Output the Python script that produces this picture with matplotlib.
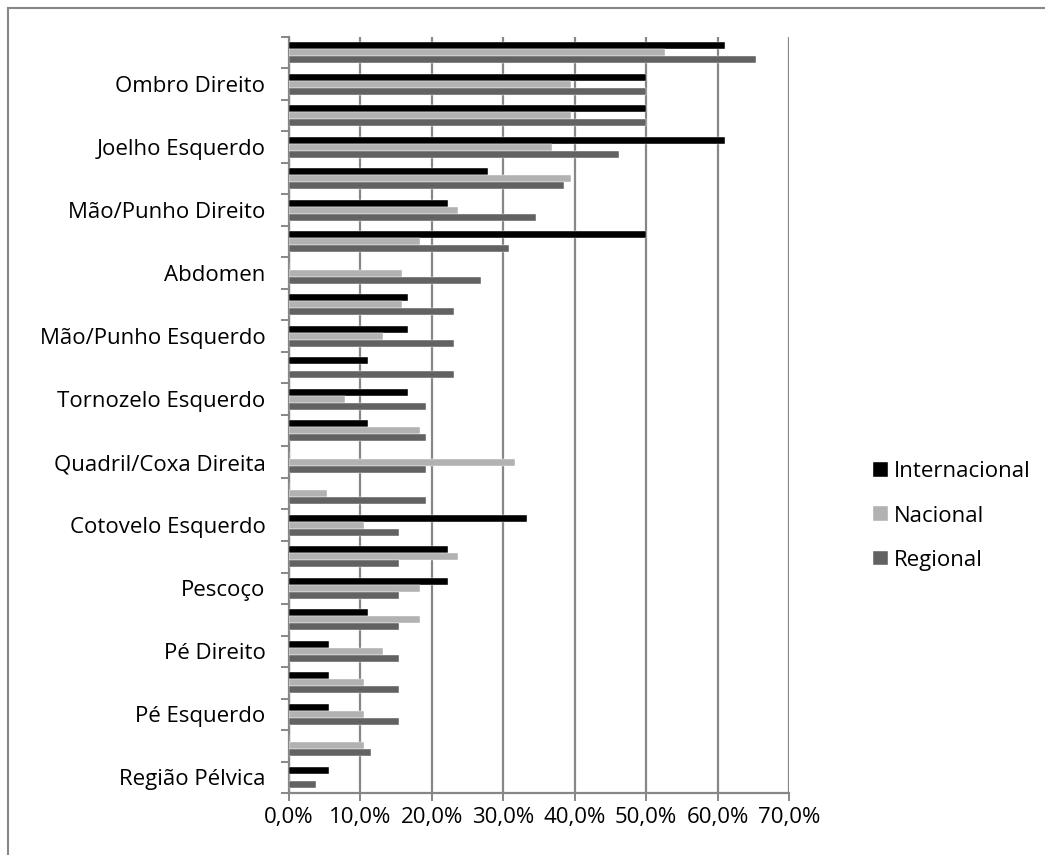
import matplotlib.pyplot as plt
import numpy as np
from matplotlib.lines import Line2D
from matplotlib.ticker import FixedLocator, FuncFormatter

plt.rcParams['font.family'] = ['Open Sans', 'DejaVu Sans']

# Body regions, top to bottom (only every other name is printed on the axis)
regioes = ['', 'Ombro Direito', '', 'Joelho Esquerdo', '', 'Mão/Punho Direito',
           '', 'Abdomen', '', 'Mão/Punho Esquerdo', '', 'Tornozelo Esquerdo',
           '', 'Quadril/Coxa Direita', '', 'Cotovelo Esquerdo', '', 'Pescoço',
           '', 'Pé Direito', '', 'Pé Esquerdo', '', 'Região Pélvica']

# Share of athletes reporting injury (%)
internacional = [61.1, 50.0, 50.0, 61.1, 27.8, 22.2, 50.0, 0.0, 16.7, 16.7, 11.1, 16.7,
                 11.1, 0.0, 0.0, 33.3, 22.2, 22.2, 11.1, 5.6, 5.6, 5.6, 0.0, 5.6]
nacional = [52.6, 39.5, 39.5, 36.8, 39.5, 23.7, 18.4, 15.8, 15.8, 13.2, 0.0, 7.9,
            18.4, 31.6, 5.3, 10.5, 23.7, 18.4, 18.4, 13.2, 10.5, 10.5, 10.5, 0.0]
regional = [65.4, 50.0, 50.0, 46.2, 38.5, 34.6, 30.8, 26.9, 23.1, 23.1, 23.1, 19.2,
            19.2, 19.2, 19.2, 15.4, 15.4, 15.4, 15.4, 15.4, 15.4, 15.4, 11.5, 3.8]

series = [('Internacional', internacional, '#000000'),
          ('Nacional', nacional, '#b2b2b2'),
          ('Regional', regional, '#626262')]

grid_color = '#878787'

fig = plt.figure(figsize=(10.45, 8.55), dpi=100)
ax = fig.add_axes([289 / 1045, 1 - 793 / 855, 500 / 1045, 756 / 855])

y = np.arange(len(regioes))
h = 1 / 4.4
for k, (nome, vals, cor) in enumerate(series):
    ax.barh(y + (k - 1) * h, vals, height=h, color=cor, label=nome,
            edgecolor='white', linewidth=0.3, zorder=3)

ax.set_xlim(0, 70)
ax.set_ylim(len(regioes) - 0.5, -0.5)

ax.xaxis.set_major_locator(FixedLocator(np.arange(0, 71, 10)))
ax.xaxis.set_major_formatter(FuncFormatter(lambda v, p: f'{v:.1f}%'.replace('.', ',')))
ax.grid(axis='x', color=grid_color, linewidth=1.6, zorder=0)

ax.set_yticks(y)
ax.set_yticklabels(regioes)
ax.yaxis.set_minor_locator(FixedLocator(np.arange(-0.5, len(regioes), 1)))

ax.tick_params(axis='y', which='major', length=0, pad=17, labelsize=16)
ax.tick_params(axis='y', which='minor', length=6, width=1.4, color=grid_color)
ax.tick_params(axis='x', length=6, width=1.4, color=grid_color, pad=4, labelsize=16)

for side in ['top', 'right']:
    ax.spines[side].set_visible(False)
for side in ['left', 'bottom']:
    ax.spines[side].set_color(grid_color)
    ax.spines[side].set_linewidth(1.6)

ax.legend(loc='center left', bbox_to_anchor=(862 / 1045, 1 - 516 / 855),
          bbox_transform=fig.transFigure, frameon=False, fontsize=16,
          handlelength=0.65, handleheight=0.65, handletextpad=0.3,
          labelspacing=1.05, borderpad=0)

# outer chart border
fig.add_artist(Line2D([8 / 1045, 8 / 1045], [0, 1 - 8 / 855], color=grid_color,
                      linewidth=1.5, transform=fig.transFigure))
fig.add_artist(Line2D([8 / 1045, 1], [1 - 8 / 855, 1 - 8 / 855], color=grid_color,
                      linewidth=1.5, transform=fig.transFigure))

plt.savefig('out.png', dpi=100)
